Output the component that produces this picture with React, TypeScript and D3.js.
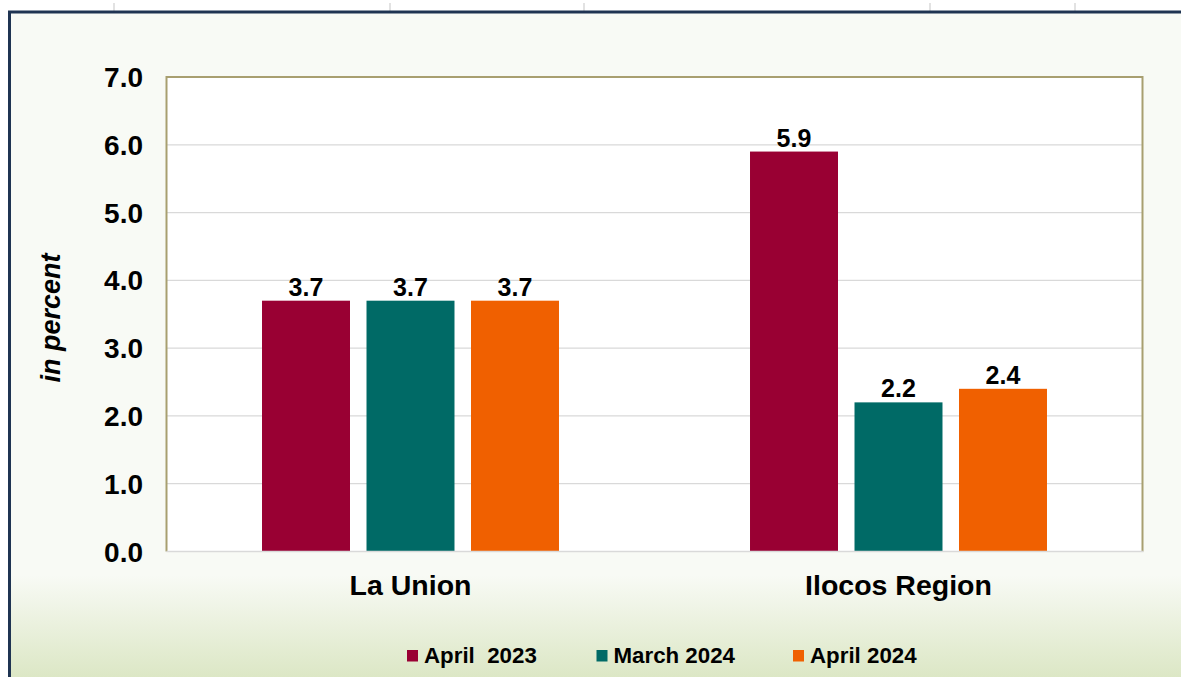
import React from "react";
import * as d3 from "d3";

const categories = ["La Union", "Ilocos Region"];
const seriesNames = ["April  2023", "March 2024", "April 2024"];
const seriesColors = ["#990033", "#006a66", "#f06000"];
const april2023 = [3.7, 5.9];
const march2024 = [3.7, 2.2];
const april2024 = [3.7, 2.4];
const yTicks = [0, 1, 2, 3, 4, 5, 6, 7];

export default function App() {
  const W = 1181, H = 677;
  const left = 166.5, right = 1142.5, top = 77, bottom = 551.5;
  const series = [april2023, march2024, april2024];
  const x0 = d3.scaleBand<string>().domain(categories).range([left, right]).paddingInner(0).paddingOuter(0);
  const x1 = d3.scaleBand<number>().domain([0, 1, 2]).range([0, x0.bandwidth()]).paddingInner(0.158).paddingOuter(0.914);
  const y = d3.scaleLinear().domain([0, 7]).range([bottom, top]);
  const font = "Arial, 'Liberation Sans', sans-serif";
  const legendX = [407, 596.5, 793];

  return (
    <svg width={W} height={H} style={{ position: "absolute", left: 0, top: 0, display: "block" }}>
      <defs>
        <linearGradient id="bg" x1="0" y1="0" x2="0" y2="1">
          <stop offset="0" stopColor="#f8faf5" />
          <stop offset="0.82" stopColor="#f8faf5" />
          <stop offset="1" stopColor="#d6e3bb" />
        </linearGradient>
      </defs>
      <rect x={0} y={0} width={W} height={H} fill="#ffffff" />
      {[114, 390, 584, 930, 1075].map((xv) => (
        <line key={xv} x1={xv} x2={xv} y1={3} y2={11} stroke="#d9d9d9" strokeWidth={1.5} />
      ))}
      <rect x={9.5} y={12} width={W + 10} height={H + 10} fill="url(#bg)" stroke="#1f3452" strokeWidth={3} />
      <rect x={left} y={top} width={right - left} height={bottom - top} fill="#ffffff" />
      {yTicks.slice(1).map((t) => (
        <line key={t} x1={left} x2={right} y1={y(t)} y2={y(t)} stroke="#d9d9d9" strokeWidth={1.3} />
      ))}
      {categories.map((c, ci) =>
        series.map((s, si) => {
          const bx = (x0(c) as number) + (x1(si) as number);
          return (
            <g key={c + si}>
              <rect x={bx} y={y(s[ci])} width={x1.bandwidth()} height={bottom - y(s[ci])} fill={seriesColors[si]} />
              <text x={bx + x1.bandwidth() / 2} y={y(s[ci]) - 5} textAnchor="middle" fontFamily={font} fontWeight="bold" fontSize={25} fill="#000">
                {s[ci].toFixed(1)}
              </text>
            </g>
          );
        })
      )}
      <path d={`M${left},${bottom} V${top} H${right} V${bottom}`} fill="none" stroke="#a89f70" strokeWidth={2} />
      <line x1={left} x2={right + 1} y1={bottom} y2={bottom} stroke="#d9d9d9" strokeWidth={1.5} />
      {yTicks.map((t) => (
        <text key={t} x={143} y={y(t) + 10} textAnchor="end" fontFamily={font} fontWeight="bold" fontSize={28} fill="#000">
          {t.toFixed(1)}
        </text>
      ))}
      {categories.map((c) => (
        <text key={c} x={(x0(c) as number) + x0.bandwidth() / 2} y={595} textAnchor="middle" fontFamily={font} fontWeight="bold" fontSize={28.5} fill="#000">
          {c}
        </text>
      ))}
      <text transform={`translate(60,318) rotate(-90)`} textAnchor="middle" fontFamily={font} fontWeight="bold" fontStyle="italic" fontSize={27} fill="#000">
        in percent
      </text>
      {seriesNames.map((n, i) => (
        <g key={n}>
          <rect x={legendX[i]} y={650} width={11} height={11.5} fill={seriesColors[i]} />
          <text x={legendX[i] + 17} y={663} fontFamily={font} fontWeight="bold" fontSize={22.3} fill="#000" style={{ whiteSpace: "pre" }} xmlSpace="preserve">
            {n}
          </text>
        </g>
      ))}
    </svg>
  );
}
